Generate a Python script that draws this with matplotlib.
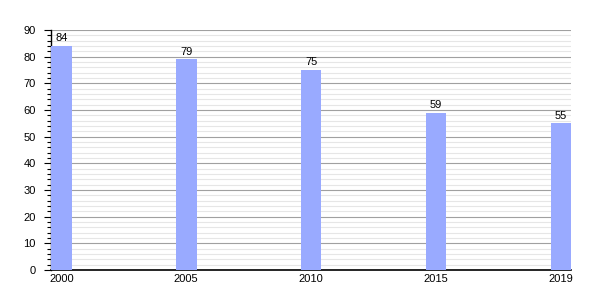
import matplotlib
matplotlib.use("Agg")
import matplotlib.pyplot as plt
from matplotlib.ticker import MultipleLocator

years = ["2000", "2005", "2010", "2015", "2019"]
values = [84, 79, 75, 59, 55]

plt.rcParams['font.family'] = ['Liberation Sans', 'DejaVu Sans']

fig = plt.figure(figsize=(6, 3), dpi=100)
ax = fig.add_axes([0.085, 0.1, 0.867, 0.8])

pos = list(range(len(years)))
width = 0.165
bars = ax.bar(pos, values, width=width, align="edge", color="#99aaff", zorder=3)

for b, v in zip(bars, values):
    ax.text(b.get_x() + b.get_width() / 2, v + 1, str(v), ha="center", va="bottom", fontsize=8, zorder=4)

ax.set_xlim(0, len(years) - 1 + width)
ax.set_ylim(0, 90)
ax.set_xticks([p + width / 2 for p in pos])
ax.set_xticklabels(years)
ax.tick_params(axis="x", length=0, labelsize=8, pad=3)

ax.yaxis.set_major_locator(MultipleLocator(10))
ax.yaxis.set_minor_locator(MultipleLocator(2))
ax.tick_params(axis="y", which="major", length=5, width=0.8, labelsize=8, pad=6)
ax.tick_params(axis="y", which="minor", length=3, width=0.8)

ax.grid(axis="y", which="major", color="#a0a0a0", linewidth=0.8, zorder=0)
ax.grid(axis="y", which="minor", color="#e6e6e6", linewidth=0.8, zorder=0)
ax.set_axisbelow(True)

for s in ["top", "right"]:
    ax.spines[s].set_visible(False)
ax.spines["left"].set_linewidth(1)
ax.spines["bottom"].set_linewidth(1.2)

fig.savefig("out.png", dpi=100)
